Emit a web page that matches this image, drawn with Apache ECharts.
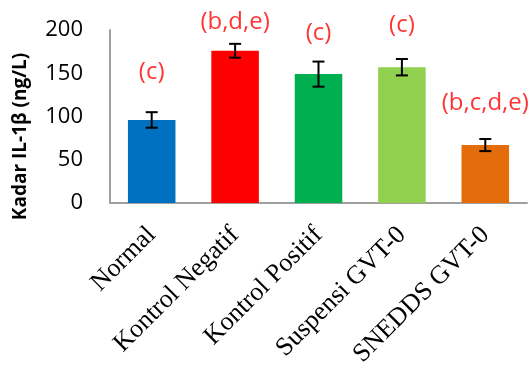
<!DOCTYPE html>
<html>
<head>
<meta charset="utf-8">
<script src="https://cdn.jsdelivr.net/npm/echarts@6/dist/echarts.min.js"></script>
<style>html,body{margin:0;padding:0;background:#fff;}#c{width:532px;height:365px;}</style>
</head>
<body>
<div id="c"></div>
<script>
var categories = ['Normal', 'Kontrol Negatif', 'Kontrol Positif', 'Suspensi GVT-0', 'SNEDDS GVT-0'];
var values = [96, 176, 149, 157, 67];
var errors = [9, 8, 14.5, 9.5, 7];
var colors = ['#0070C0', '#FF0000', '#00B050', '#92D050', '#E46C0A'];
var sigLabels = ['(c)', '(b,d,e)', '(c)', '(c)', '(b,c,d,e)'];
var sigLabelY = [151, 209, 196, 206, 116];
var yTicks = [0, 50, 100, 150, 200];

var chart = echarts.init(document.getElementById('c'));
chart.setOption({
  animation: false,
  grid: { left: 110, right: 5, top: 30, bottom: 162, outerBoundsMode: 'none', containLabel: false },
  xAxis: {
    type: 'category',
    data: categories,
    axisLine: { lineStyle: { color: '#A0A0A0', width: 2 } },
    axisTick: { show: false },
    axisLabel: {
      rotate: 45, interval: 0, margin: 28,
      fontFamily: 'Liberation Serif', fontSize: 26, color: '#000'
    }
  },
  yAxis: {
    type: 'value', min: yTicks[0], max: yTicks[yTicks.length - 1], interval: 50,
    name: 'Kadar IL-1\u03B2 (ng/L)',
    nameLocation: 'middle', nameGap: 80,
    nameTextStyle: { fontFamily: 'Open Sans', fontWeight: 'bold', fontSize: 19, color: '#000', padding: [0, 40, 0, 0] },
    axisLine: { show: true, lineStyle: { color: '#A0A0A0', width: 2 } },
    axisTick: { show: false },
    splitLine: { show: false },
    axisLabel: { fontFamily: 'Open Sans', fontSize: 22, color: '#000', margin: 27 }
  },
  series: [
    {
      type: 'bar',
      barWidth: '57%',
      data: values.map(function (v, i) { return { value: v, itemStyle: { color: colors[i] } }; })
    },
    {
      type: 'custom',
      data: values.map(function (v, i) { return [i, v - errors[i], v + errors[i]]; }),
      renderItem: function (params, api) {
        var lo = api.coord([api.value(0), api.value(1)]);
        var hi = api.coord([api.value(0), api.value(2)]);
        var w = 6;
        var st = { stroke: '#000', lineWidth: 2 };
        return {
          type: 'group',
          children: [
            { type: 'line', shape: { x1: lo[0], y1: lo[1], x2: hi[0], y2: hi[1] }, style: st },
            { type: 'line', shape: { x1: lo[0] - w, y1: lo[1], x2: lo[0] + w, y2: lo[1] }, style: st },
            { type: 'line', shape: { x1: hi[0] - w, y1: hi[1], x2: hi[0] + w, y2: hi[1] }, style: st }
          ]
        };
      },
      z: 5
    },
    {
      type: 'scatter',
      clip: false,
      symbolSize: 0,
      data: sigLabelY.map(function (y, i) { return [i, y]; }),
      label: {
        show: true, position: 'inside',
        formatter: function (p) { return sigLabels[p.dataIndex]; },
        fontFamily: 'Open Sans', fontSize: 24, color: '#FF0000'
      },
      z: 6
    }
  ]
});
</script>
</body>
</html>
